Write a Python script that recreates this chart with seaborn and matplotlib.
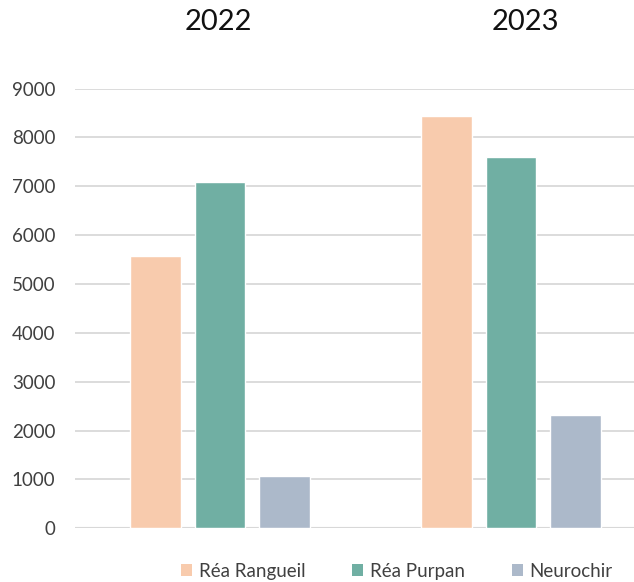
import matplotlib
matplotlib.use("Agg")
import matplotlib.pyplot as plt
import seaborn as sns
import pandas as pd
from matplotlib.patches import Patch
from matplotlib.transforms import blended_transform_factory

# Data
years = ["2022", "2023"]
services = ["Réa Rangueil", "Réa Purpan", "Neurochir"]
rea_rangueil = [5580, 8430]
rea_purpan = [7080, 7600]
neurochir = [1080, 2320]
yticks = [0, 1000, 2000, 3000, 4000, 5000, 6000, 7000, 8000, 9000]

colors = ["#F8CBAD", "#70AFA3", "#ACB9CA"]

df = pd.DataFrame({
    "year": years * 3,
    "service": [s for s in services for _ in years],
    "value": rea_rangueil + rea_purpan + neurochir,
})

sns.set_theme(style="white")
plt.rcParams["font.family"] = ["Lato", "DejaVu Sans"]

fig = plt.figure(figsize=(6.34, 5.82), dpi=100)
ax = fig.add_axes([0.118, 0.0923, 0.917, 0.7555])

sns.barplot(data=df, x="year", y="value", hue="service", order=years,
            hue_order=services, palette=colors, width=0.665, gap=0.217,
            saturation=1, errorbar=None, legend=False, ax=ax)

ax.set_xlim(-0.5, 1.5)
ax.set_ylim(0, 9000)
ax.set_yticks(yticks)
ax.set_yticklabels([str(t) for t in yticks], fontsize=13.5, color="#404040")
ax.tick_params(axis="y", length=0, pad=14)
ax.set_xticks([])
ax.set_xlabel("")
ax.set_ylabel("")
for sp in ax.spines.values():
    sp.set_visible(False)
ax.grid(axis="y", color="#D9D9D9", linewidth=1.3)
ax.set_axisbelow(True)
ax.axhline(0, color="#D0D0D0", linewidth=1.5, zorder=0.5)

# Year headings above each group
trans = blended_transform_factory(ax.transData, fig.transFigure)
offsets = [-0.007, 0.05]
for i, y in enumerate(years):
    ax.text(i + offsets[i], 0.962, y, transform=trans, ha="center", va="center",
            fontsize=21, color="#111111")

handles = [Patch(facecolor=c, edgecolor="none") for c in colors]
fig.legend(handles, services, loc="center", bbox_to_anchor=(0.626, 0.018),
           ncol=3, frameon=False, fontsize=13.5, handlelength=0.6,
           handleheight=0.6, handletextpad=0.35, columnspacing=2.5,
           labelcolor="#404040")

fig.savefig("out.png", dpi=100)
